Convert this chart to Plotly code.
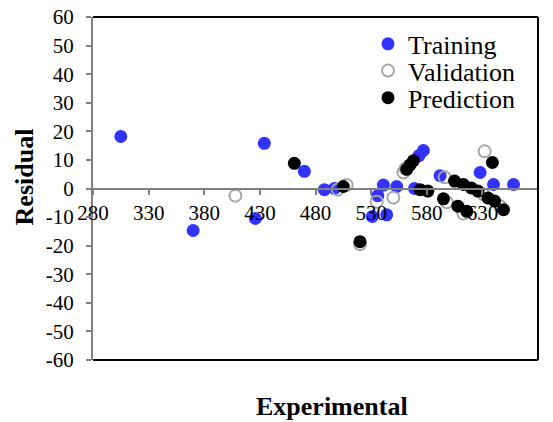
import plotly.graph_objects as go

# Data
train_x = [305, 370, 426, 434, 470, 488, 497, 531, 536, 541, 544, 553, 569, 573, 577, 592, 628, 640, 658]
train_y = [18.2, -14.7, -10.5, 15.8, 6.0, -0.4, 0.0, -9.8, -2.5, 1.2, -9.2, 0.7, 0.0, 11.5, 13.3, 4.5, 5.6, 1.4, 1.4]

val_x = [408, 500, 508, 520, 535, 550, 559, 561, 596, 632, 598, 613, 631, 646]
val_y = [-2.5, -0.4, 1.2, -19.5, -4.6, -3.2, 5.6, 7.0, 3.9, 13.0, -4.8, -8.8, -2.0, -6.2]

pred_x = [461, 505, 520, 562, 565, 568, 574, 581, 595, 608, 616, 605, 613, 620, 626, 635, 641, 649, 639]
pred_y = [8.8, 0.7, -18.6, 6.7, 8.3, 9.7, -0.4, -0.9, -3.6, -6.2, -8.0, 2.6, 1.4, 0.2, -0.9, -3.3, -4.4, -7.4, 9.1]

x_ticks = [280, 330, 380, 430, 480, 530, 580, 630, 680]
y_ticks = [60, 50, 40, 30, 20, 10, 0, -10, -20, -30, -40, -50, -60]

FONT = "Liberation Serif"
GRAY = "#808080"

fig = go.Figure()
fig.add_trace(go.Scatter(x=train_x, y=train_y, mode="markers", name="Training",
                         marker=dict(size=13, color="#3333FF"), legend="legend"))
fig.add_trace(go.Scatter(x=val_x, y=val_y, mode="markers", name="Validation",
                         marker=dict(size=12, color="rgba(255,255,255,0)",
                                     line=dict(color="#A6A6A6", width=2)), legend="legend2"))
fig.add_trace(go.Scatter(x=pred_x, y=pred_y, mode="markers", name="Prediction",
                         marker=dict(size=13, color="#000000"), legend="legend3"))

def leg(ytop):
    return dict(x=0.618, y=ytop, xanchor="left", yanchor="top",
                bgcolor="rgba(0,0,0,0)", font=dict(family=FONT, size=26),
                itemwidth=30)

fig.update_layout(
    width=553, height=422,
    margin=dict(l=93, r=15, t=17, b=62),
    paper_bgcolor="white", plot_bgcolor="white",
    font=dict(family=FONT, color="black", size=21),
    showlegend=True,
    legend=leg(0.99), legend2=leg(0.912), legend3=leg(0.833),
    xaxis=dict(range=[280, 680], tickvals=x_ticks, ticktext=[str(v) for v in x_ticks],
               anchor="free", position=0.5, showline=True, linecolor=GRAY, linewidth=2,
               ticks="outside", ticklen=5, tickwidth=2, tickcolor=GRAY, automargin=False,
               showgrid=False, zeroline=False, tickfont=dict(family=FONT, size=21)),
    yaxis=dict(range=[-60, 60], tickvals=y_ticks, ticktext=[str(v) for v in y_ticks],
               showline=True, linecolor=GRAY, linewidth=2, automargin=False,
               ticks="outside", ticklen=5, tickwidth=2, tickcolor=GRAY,
               showgrid=False, zeroline=False, tickfont=dict(family=FONT, size=21),
               ticklabelstandoff=8),
    shapes=[
        dict(type="line", xref="paper", yref="paper", x0=0, x1=1, y0=1, y1=1,
             line=dict(color="black", width=2)),
        dict(type="line", xref="paper", yref="paper", x0=1, x1=1, y0=0, y1=1,
             line=dict(color="black", width=2)),
        dict(type="line", xref="paper", yref="paper", x0=0, x1=1, y0=0, y1=0,
             line=dict(color="black", width=2)),
    ],
    annotations=[
        dict(text="<b>Experimental</b>", xref="paper", yref="paper", x=0.537, y=-0.135,
             xanchor="center", yanchor="middle", showarrow=False,
             font=dict(family=FONT, size=26)),
        dict(text="<b>Residual</b>", xref="paper", yref="paper", x=-0.153, y=0.535,
             xanchor="center", yanchor="middle", showarrow=False, textangle=-90,
             font=dict(family=FONT, size=26)),
    ],
)

fig.write_html("out.html")
